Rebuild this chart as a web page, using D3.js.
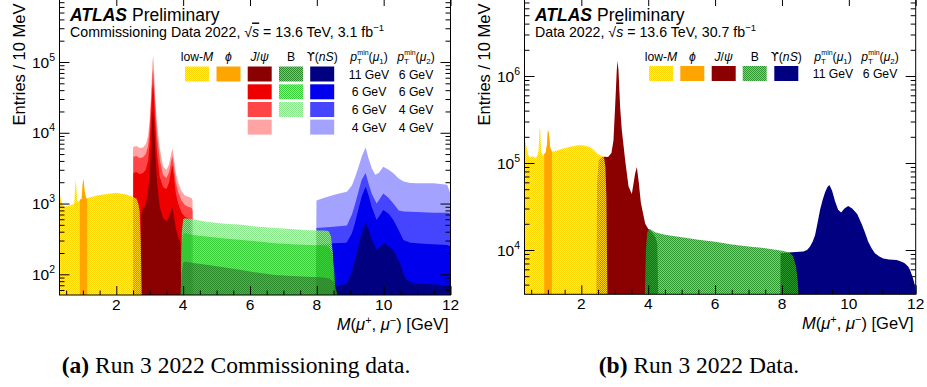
<!DOCTYPE html>
<html><head><meta charset="utf-8">
<script src="https://cdn.jsdelivr.net/npm/d3@7"></script>
<style>body{margin:0;background:#fff}svg{display:block}</style>
</head><body>
<svg id="c" width="927" height="387"></svg>
<script>
// ---------------- DATA ----------------
// mass points [GeV, entries / 10 MeV]; 0 = empty bin
// Panel (a): commissioning data
const lowM_a = [[0.3,1400],[0.34,1150],[0.4,950],[0.46,900],[0.55,920],[0.65,950],[0.74,1000],[0.77,1800],[0.79,2150],[0.81,1500],[0.84,1050],[0.9,1100],[0.96,1150],[1.0,2000],[1.02,2200],[1.05,1500],[1.1,1180],[1.2,1220],[1.36,1280],[1.5,1320],[1.66,1350],[1.85,1390],[2.0,1420],[2.15,1380],[2.26,1350],[2.4,1290],[2.5,1240],[2.6,1180],[2.66,1000],[2.7,760],[2.73,300],[2.76,0]];
const phi_a = [[0.91,0],[0.91,1150],[0.96,1150],[1.0,2000],[1.02,2200],[1.05,1500],[1.1,1180],[1.13,1180],[1.13,0]];
const jpsi_a4 = [[2.49,0],[2.5,6300],[2.6,6500],[2.7,6100],[2.8,6200],[2.88,6800],[2.95,9000],[3.0,16000],[3.04,35000],[3.08,95000],[3.1,125000],[3.12,95000],[3.16,35000],[3.22,13000],[3.3,6000],[3.4,3300],[3.5,3000],[3.58,3600],[3.64,5000],[3.68,6000],[3.72,4500],[3.78,2700],[3.85,2000],[3.95,1500],[4.05,1300],[4.15,1250],[4.25,1200],[4.28,1100],[4.3,0]];
const jpsi_a3 = [[2.5,0],[2.51,4600],[2.6,4700],[2.7,4400],[2.8,4500],[2.88,5000],[2.95,6500],[3.0,12000],[3.04,27000],[3.08,65000],[3.1,80000],[3.12,60000],[3.16,25000],[3.22,9000],[3.3,4200],[3.4,2500],[3.5,2300],[3.58,2800],[3.64,3900],[3.68,4700],[3.72,3400],[3.78,2000],[3.85,1450],[3.95,1100],[4.05,950],[4.15,900],[4.25,870],[4.28,800],[4.3,0]];
const jpsi_a2 = [[2.5,0],[2.51,2700],[2.6,2800],[2.7,2600],[2.8,2700],[2.88,3000],[2.95,4000],[3.0,7500],[3.04,18000],[3.08,42000],[3.1,50000],[3.12,38000],[3.16,15000],[3.22,5000],[3.3,2400],[3.4,1700],[3.5,1600],[3.58,2000],[3.64,2900],[3.68,3500],[3.72,2500],[3.78,1400],[3.85,1000],[3.95,750],[4.05,650],[4.15,620],[4.22,600],[4.25,0]];
const jpsi_a1 = [[2.72,0],[2.74,700],[2.8,850],[2.88,950],[2.95,1500],[3.0,2800],[3.04,6500],[3.08,17000],[3.1,21000],[3.12,16000],[3.16,6000],[3.22,2000],[3.3,900],[3.4,620],[3.5,560],[3.58,650],[3.64,800],[3.68,880],[3.72,700],[3.78,450],[3.85,330],[3.92,280],[3.95,0]];
const B_a3 = [[3.93,0],[3.96,400],[4.0,600],[4.05,620],[4.3,600],[4.75,550],[5.25,520],[5.75,500],[6.25,470],[6.75,450],[7.25,435],[7.75,420],[8.2,415],[8.35,410],[8.42,350],[8.48,200],[8.52,0]];
const B_a2 = [[3.93,0],[3.96,260],[4.0,370],[4.05,380],[4.3,360],[4.75,340],[5.25,320],[5.75,305],[6.25,290],[6.75,275],[7.25,265],[7.75,260],[8.2,255],[8.35,250],[8.45,200],[8.52,120],[8.56,0]];
const B_a1 = [[3.93,0],[3.96,110],[4.0,145],[4.05,150],[4.3,145],[4.75,135],[5.25,125],[5.75,115],[6.25,105],[6.75,98],[7.25,95],[7.75,92],[8.2,90],[8.35,88],[8.5,80],[8.58,60],[8.62,0]];
const ups_a4 = [[7.97,0],[7.99,1100],[8.2,1200],[8.5,1320],[8.7,1400],[8.9,1470],[9.05,1800],[9.15,2400],[9.25,3300],[9.35,4700],[9.46,6200],[9.55,4300],[9.65,3100],[9.75,2550],[9.85,2700],[9.99,3300],[10.15,3000],[10.3,2650],[10.45,2250],[10.6,2050],[10.8,1950],[11.0,1930],[11.5,1930],[11.9,1850],[11.97,1500],[12.0,1400]];
const ups_a3 = [[7.97,0],[7.99,450],[8.5,470],[8.9,490],[9.05,700],[9.15,1000],[9.25,1500],[9.34,2150],[9.46,2700],[9.55,1900],[9.64,1390],[9.79,1000],[9.99,1390],[10.15,1200],[10.29,1000],[10.45,800],[10.6,770],[11.0,760],[11.5,740],[11.95,740],[12.0,700]];
const ups_a2 = [[7.97,0],[7.99,260],[8.5,275],[8.89,280],[9.05,380],[9.14,525],[9.25,850],[9.34,1250],[9.46,1730],[9.55,1300],[9.64,900],[9.79,585],[9.99,810],[10.15,720],[10.29,585],[10.45,420],[10.59,305],[10.8,280],[11.2,270],[11.9,260],[12.0,250]];
const ups_a1 = [[7.97,0],[7.99,60],[8.5,65],[8.9,75],[9.05,110],[9.14,160],[9.25,260],[9.34,380],[9.46,550],[9.55,430],[9.64,320],[9.79,220],[9.9,250],[10.02,275],[10.15,250],[10.29,220],[10.49,143],[10.6,100],[10.69,83],[10.9,75],[11.5,72],[12.0,70]];

// Panel (b): 2022 data
const lowM_b = [[0.3,195000],[0.35,160000],[0.41,125000],[0.46,115000],[0.5,120000],[0.55,118000],[0.62,115000],[0.68,120000],[0.72,140000],[0.75,250000],[0.77,240000],[0.8,130000],[0.86,122000],[0.93,130000],[0.97,160000],[1.0,240000],[1.03,220000],[1.07,150000],[1.12,135000],[1.25,138000],[1.4,145000],[1.55,150000],[1.7,155000],[1.9,160000],[2.05,160000],[2.2,155000],[2.35,145000],[2.5,126000],[2.62,120000],[2.68,115000],[2.72,90000],[2.75,40000],[2.78,0]];
const phi_b = [[0.89,0],[0.89,128000],[0.93,130000],[0.97,160000],[1.0,240000],[1.03,220000],[1.07,150000],[1.12,135000],[1.12,0]];
const jpsi_b = [[2.45,0],[2.47,60000],[2.52,110000],[2.6,117000],[2.7,118000],[2.8,117000],[2.9,130000],[2.96,180000],[3.01,440000],[3.06,1170000],[3.08,1500000],[3.11,1170000],[3.16,440000],[3.21,240000],[3.31,108000],[3.41,54000],[3.51,44000],[3.61,76000],[3.66,90000],[3.72,59000],[3.78,35000],[3.91,20000],[4.0,17500],[4.1,16000],[4.2,14500],[4.27,12000],[4.3,0]];
const B_b = [[3.9,0],[3.93,10000],[3.97,16000],[4.05,17500],[4.2,16000],[4.5,15000],[5.0,14000],[5.5,13100],[6.0,12400],[6.5,11600],[7.0,11000],[7.5,10500],[8.0,9800],[8.2,9400],[8.33,8600],[8.42,6500],[8.47,4500],[8.5,0]];
const ups_b = [[7.95,0],[7.96,9200],[8.3,9400],[8.64,9600],[8.75,10000],[8.84,11000],[8.92,12500],[8.99,14800],[9.07,21000],[9.14,29000],[9.22,38000],[9.29,46000],[9.36,53000],[9.42,56000],[9.5,48000],[9.59,36000],[9.68,29000],[9.77,27000],[9.87,30000],[9.98,32000],[10.1,30000],[10.25,26000],[10.38,20000],[10.48,16000],[10.58,12400],[10.68,10500],[10.78,9200],[10.9,8500],[11.03,8000],[11.2,7800],[11.43,7700],[11.6,7300],[11.68,7000],[11.78,6400],[11.83,5900],[11.9,5000],[11.95,4300],[12.0,3500]];

// axis ticks
const xMajor = [2,4,6,8,10,12];
const yMajorA = [1e2,1e3,1e4,1e5];
const yMajorB = [1e4,1e5,1e6];
// legend texts
const ptRowsA = [["11 GeV","6 GeV"],["6 GeV","6 GeV"],["6 GeV","4 GeV"],["4 GeV","4 GeV"]];
const ptRowsB = [["11 GeV","6 GeV"]];

// ---------------- DRAW ----------------
const FONT = "'Liberation Sans', Arial, Helvetica, sans-serif";
const svg = d3.select('#c').style('font-family', FONT);
const defs = svg.append('defs');

function pat(id, color, alpha){
  const p = defs.append('pattern').attr('id', id).attr('width', 2).attr('height', 2)
    .attr('patternUnits', 'userSpaceOnUse');
  p.append('rect').attr('width', 2).attr('height', 2).attr('fill', color).attr('fill-opacity', alpha);
  p.append('rect').attr('x', 0).attr('y', 0).attr('width', 1).attr('height', 1).attr('fill', color);
  p.append('rect').attr('x', 1).attr('y', 1).attr('width', 1).attr('height', 1).attr('fill', color);
  return `url(#${id})`;
}
const C = {
  lowM: pat('pLow', '#ffd400', 0.55),
  phi: '#ffa500',
  j1: '#8b0000', j2: '#ee0000', j3: '#ff4545', j4: '#ffa3a3',
  b1: pat('pB1', '#2a8a2a', 0.55), b2: pat('pB2', '#38cc38', 0.5), b3: pat('pB3', '#8ae68a', 0.5),
  bB: pat('pBb', '#2e962e', 0.55),
  u1: '#000080', u2: '#0000ee', u3: '#4545ff', u4: '#a3a3ff'
};

function panel(o){
  const g = svg.append('g');
  const x = d3.scaleLinear().domain([0.3, 12]).range([o.x0, o.x1]);
  const y = d3.scaleLog().domain(o.yDom).range(o.yRng);
  const top = -3, bot = o.bot;
  const clipId = 'clip' + o.id;
  defs.append('clipPath').attr('id', clipId).append('rect')
    .attr('x', o.x0).attr('y', top).attr('width', o.x1 - o.x0).attr('height', bot - top);
  const area = d3.area().x(d => x(d[0])).y0(bot)
    .y1(d => d[1] > 0 ? Math.min(bot, y(d[1])) : bot);
  const pg = g.append('g').attr('clip-path', `url(#${clipId})`);
  o.series.forEach(s => pg.append('path').attr('d', area(s[0])).attr('fill', s[1]));

  // frame
  g.append('rect').attr('x', o.x0).attr('y', top).attr('width', o.x1 - o.x0).attr('height', bot - top)
    .attr('fill', 'none').attr('stroke', '#000').attr('stroke-width', 1);

  // x ticks (inward)
  const xMinor = d3.range(0.5, 12.01, 0.5).filter(v => xMajor.indexOf(v) < 0);
  const axB = g.append('g').attr('transform', `translate(0,${bot})`)
    .call(d3.axisBottom(x).tickValues(xMajor).tickSize(-9).tickFormat(''));
  const axBm = g.append('g').attr('transform', `translate(0,${bot})`)
    .call(d3.axisBottom(x).tickValues(xMinor).tickSize(-4.5).tickFormat(''));
  const axT = g.append('g').attr('transform', `translate(0,${top})`)
    .call(d3.axisTop(x).tickValues(xMajor).tickSize(-9).tickFormat(''));
  // y ticks
  const yLo = y.invert(bot), yHi = y.invert(top);
  const yMinor = [];
  for (let e = Math.floor(Math.log10(yLo)); e <= Math.ceil(Math.log10(yHi)); e++)
    for (let k = 2; k <= 9; k++) { const v = k * Math.pow(10, e); if (v > yLo && v < yHi) yMinor.push(v); }
  const axL = g.append('g').attr('transform', `translate(${o.x0},0)`)
    .call(d3.axisLeft(y).tickValues(o.yMajor).tickSize(-10).tickFormat(''));
  const axLm = g.append('g').attr('transform', `translate(${o.x0},0)`)
    .call(d3.axisLeft(y).tickValues(yMinor).tickSize(-5).tickFormat(''));
  const axR = g.append('g').attr('transform', `translate(${o.x1},0)`)
    .call(d3.axisRight(y).tickValues(o.yMajor).tickSize(-10).tickFormat(''));
  const axRm = g.append('g').attr('transform', `translate(${o.x1},0)`)
    .call(d3.axisRight(y).tickValues(yMinor).tickSize(-5).tickFormat(''));
  [axB, axBm, axT, axL, axLm, axR, axRm].forEach(a => {
    a.select('.domain').remove();
    a.selectAll('line').attr('stroke', '#000').attr('stroke-width', 1);
  });

  // tick labels
  xMajor.forEach(v => g.append('text').attr('x', x(v)).attr('y', bot + 14.5)
    .attr('text-anchor', 'middle').attr('font-size', 15.5).text(v));
  o.yMajor.forEach(v => {
    const t = g.append('text').attr('x', o.x0 - 4.5).attr('y', y(v) + 5.5)
      .attr('text-anchor', 'end').attr('font-size', 15.5);
    t.append('tspan').text('10');
    t.append('tspan').attr('font-size', 10.5).attr('dy', -7).text(Math.round(Math.log10(v)));
  });

  // axis titles
  const xt = g.append('text').attr('x', o.x1 - 2).attr('y', bot + 34.5)
    .attr('text-anchor', 'end').attr('font-size', 16.5);
  xt.append('tspan').attr('font-style', 'italic').text('M');
  xt.append('tspan').text('(');
  xt.append('tspan').attr('font-style', 'italic').text('μ');
  xt.append('tspan').attr('font-size', 11).attr('dy', -6).text('+');
  xt.append('tspan').attr('dy', 6).text(', ');
  xt.append('tspan').attr('font-style', 'italic').text('μ');
  xt.append('tspan').attr('font-size', 11).attr('dy', -6).text('−');
  xt.append('tspan').attr('dy', 6).text(') [GeV]');
  g.append('text').attr('transform', `translate(${o.x0 - 35},125.5) rotate(-90)`)
    .attr('font-size', 16.5).text('Entries / 10 MeV');

  // ATLAS label
  const tx = o.x0 + 10.5;
  g.append('text').attr('x', tx).attr('y', 20.5).attr('font-size', 17.5)
    .attr('font-weight', 'bold').attr('font-style', 'italic').text('ATLAS');
  g.append('text').attr('x', tx + 62).attr('y', 20.5).attr('font-size', 17.5).text('Preliminary');
  const st = g.append('text').attr('x', tx).attr('y', 36.5).attr('font-size', 14.2);
  st.append('tspan').text(o.sub + ', √');
  st.append('tspan').attr('font-style', 'italic').style('text-decoration', 'overline').text('s');
  st.append('tspan').text(' = 13.6 TeV, ' + o.lumi + ' fb');
  st.append('tspan').attr('font-size', 9.5).attr('dy', -6).text('−1');

  // legend
  const L = o.leg; // column centers
  const hy = 61;
  function head(cx, build){ const t = g.append('text').attr('x', cx).attr('y', hy)
      .attr('text-anchor', 'middle').attr('font-size', 12.2); build(t); }
  head(L.cols[0], t => { t.append('tspan').text('low-'); t.append('tspan').attr('font-style','italic').text('M'); });
  head(L.cols[1], t => t.append('tspan').attr('font-style','italic').text('ϕ'));
  head(L.cols[2], t => { t.append('tspan').attr('font-style','italic').text('J'); t.append('tspan').text('/');
    t.append('tspan').attr('font-style','italic').text('ψ'); });
  head(L.cols[3], t => t.append('tspan').text('B'));
  head(L.cols[4], t => { t.append('tspan').attr('font-family', "'DejaVu Sans', sans-serif").attr('font-size', 11.5).text('ϒ');
    t.append('tspan').text('('); t.append('tspan').attr('font-style','italic').text('nS');
    t.append('tspan').text(')'); });
  [1, 2].forEach((n, i) => head(L.pt[i], t => {
    t.append('tspan').attr('font-style','italic').text('p');
    t.append('tspan').attr('font-size', 8).attr('dy', 3).text('T');
    t.append('tspan').attr('font-size', 7).attr('dx', -4.5).attr('dy', -9.5).text('min');
    t.append('tspan').attr('dy', 6.5).text('(');
    t.append('tspan').attr('font-style','italic').text('μ');
    t.append('tspan').attr('font-size', 8).attr('dy', 3).text(n);
    t.append('tspan').attr('dy', -3).text(')');
  }));
  const bw = 24, bh = 15;
  o.boxes.forEach(b => g.append('rect').attr('x', L.cols[b[0]] - bw / 2).attr('y', L.rowY[b[1]])
    .attr('width', bw).attr('height', bh).attr('fill', b[2]));
  o.ptRows.forEach((r, i) => r.forEach((s, j) => g.append('text').attr('x', L.pt[j]).attr('y', L.rowY[i] + 12)
    .attr('text-anchor', 'middle').attr('font-size', 12.2).text(s)));
}

const rowsA = [66.5, 84.3, 102, 119.6];
panel({
  id: 'a', x0: 59.5, x1: 450.5, bot: 295, yDom: [1e2, 1e5], yRng: [274.3, 62], yMajor: yMajorA,
  series: [[ups_a4, C.u4], [ups_a3, C.u3], [ups_a2, C.u2], [ups_a1, C.u1],
           [jpsi_a4, C.j4], [jpsi_a3, C.j3], [jpsi_a2, C.j2], [jpsi_a1, C.j1],
           [lowM_a, C.lowM], [phi_a, C.phi],
           [B_a3, C.b3], [B_a2, C.b2], [B_a1, C.b1]],
  sub: 'Commissioning Data 2022', lumi: '3.1',
  leg: { cols: [197, 228.5, 259.7, 291, 322.2], pt: [369, 416], rowY: rowsA },
  boxes: [[0,0,C.lowM],[1,0,C.phi],[2,0,C.j1],[3,0,C.b1],[4,0,C.u1],
          [2,1,C.j2],[3,1,C.b2],[4,1,C.u2],
          [2,2,C.j3],[3,2,C.b3],[4,2,C.u3],
          [2,3,C.j4],[4,3,C.u4]],
  ptRows: ptRowsA
});
panel({
  id: 'b', x0: 524.5, x1: 915.7, bot: 294.3, yDom: [1e4, 1e6], yRng: [250, 76], yMajor: yMajorB,
  series: [[ups_b, C.u1], [jpsi_b, C.j1], [lowM_b, C.lowM], [phi_b, C.phi], [B_b, C.bB]],
  sub: 'Data 2022', lumi: '30.7',
  leg: { cols: [661, 692.3, 723.7, 754.7, 786.3], pt: [833, 880], rowY: [66] },
  boxes: [[0,0,C.lowM],[1,0,C.phi],[2,0,C.j1],[3,0,C.bB],[4,0,C.u1]],
  ptRows: ptRowsB
});

// captions
const SERIF = "'Liberation Serif', 'Times New Roman', serif";
function caption(xc, lab, txt){
  const t = svg.append('text').attr('x', xc).attr('y', 372.5).attr('text-anchor', 'middle')
    .attr('font-family', SERIF).attr('font-size', 23.5);
  t.append('tspan').attr('font-weight', 'bold').text(lab);
  t.append('tspan').text(txt);
}
caption(236, '(a)', ' Run 3 2022 Commissioning data.');
caption(699, '(b)', ' Run 3 2022 Data.');
</script>
</body></html>
